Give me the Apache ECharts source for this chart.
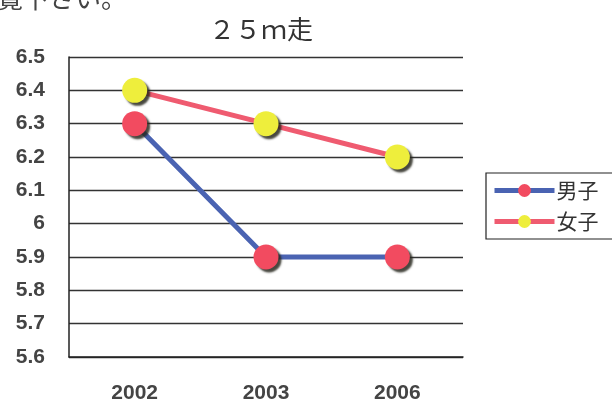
<!DOCTYPE html>
<html>
<head>
<meta charset="utf-8">
<script src="https://cdn.jsdelivr.net/npm/echarts@6/dist/echarts.min.js"></script>
<style>
  html, body { margin: 0; padding: 0; background: #fff; }
  #chart { width: 612px; height: 404px; }
</style>
</head>
<body>
<div id="chart"></div>
<script>
// 25m run times by year
const years = ['2002', '2003', '2006'];
const boys = [6.3, 5.9, 5.9];
const girls = [6.4, 6.3, 6.2];
const seriesNames = ['男子', '女子'];

const chart = echarts.init(document.getElementById('chart'), null, { renderer: 'canvas' });

const markerShadow = {
  shadowColor: 'rgba(40,40,30,0.85)',
  shadowBlur: 2,
  shadowOffsetX: 3,
  shadowOffsetY: 3
};

chart.setOption({
  backgroundColor: '#ffffff',
  animation: false,
  title: {
    text: '２５ｍ走',
    left: 204,
    top: 11,
    textStyle: {
      fontFamily: '"Noto Sans CJK JP", sans-serif',
      fontSize: 26,
      fontWeight: 'normal',
      color: '#333'
    }
  },
  graphic: [{
    type: 'text',
    left: -3,
    top: -15,
    style: {
      text: '覧下さい。',
      font: '26px "Noto Sans CJK JP"',
      fill: '#444'
    }
  }],
  legend: {
    orient: 'vertical',
    left: 486,
    top: 173,
    padding: [7, 40, 7, 6],
    itemGap: 10,
    itemWidth: 60,
    itemHeight: 16,
    lineStyle: { width: 5 },
    borderColor: '#222',
    borderWidth: 1.2,
    textStyle: {
      fontFamily: '"Noto Sans CJK JP", sans-serif',
      fontSize: 21,
      color: '#333',
      padding: [0, 0, 0, -3]
    },
    data: seriesNames
  },
  grid: { left: 69, right: 149, top: 57, bottom: 47 },
  xAxis: {
    type: 'category',
    data: years,
    boundaryGap: true,
    axisLine: { lineStyle: { color: '#222', width: 1.5 } },
    axisTick: { inside: true, length: 7, lineStyle: { color: '#222', width: 1.2 } },
    axisLabel: {
      margin: 26,
      fontFamily: 'Liberation Sans, Arial, sans-serif',
      fontSize: 21,
      fontWeight: 'bold',
      color: '#444'
    }
  },
  yAxis: {
    type: 'value',
    min: 5.6,
    max: 6.5,
    interval: 0.1,
    axisLine: { show: true, lineStyle: { color: '#222', width: 1.5 } },
    axisTick: { show: false },
    splitLine: { lineStyle: { color: '#333', width: 1.3 } },
    axisLabel: {
      margin: 24,
      fontFamily: 'Liberation Sans, Arial, sans-serif',
      fontSize: 21,
      fontWeight: 'bold',
      color: '#444',
      formatter: v => String(Math.round(v * 10) / 10)
    }
  },
  series: [
    {
      name: seriesNames[0],
      type: 'line',
      data: boys,
      symbol: 'circle',
      symbolSize: 25,
      lineStyle: { color: '#4a63b2', width: 5 },
      itemStyle: Object.assign({ color: '#f24b60', borderWidth: 0 }, markerShadow),
      z: 3
    },
    {
      name: seriesNames[1],
      type: 'line',
      data: girls,
      symbol: 'circle',
      symbolSize: 25,
      lineStyle: { color: '#ef5b70', width: 5 },
      itemStyle: Object.assign({ color: '#eeee3c', borderWidth: 0 }, markerShadow),
      z: 4
    }
  ]
});
</script>
</body>
</html>
